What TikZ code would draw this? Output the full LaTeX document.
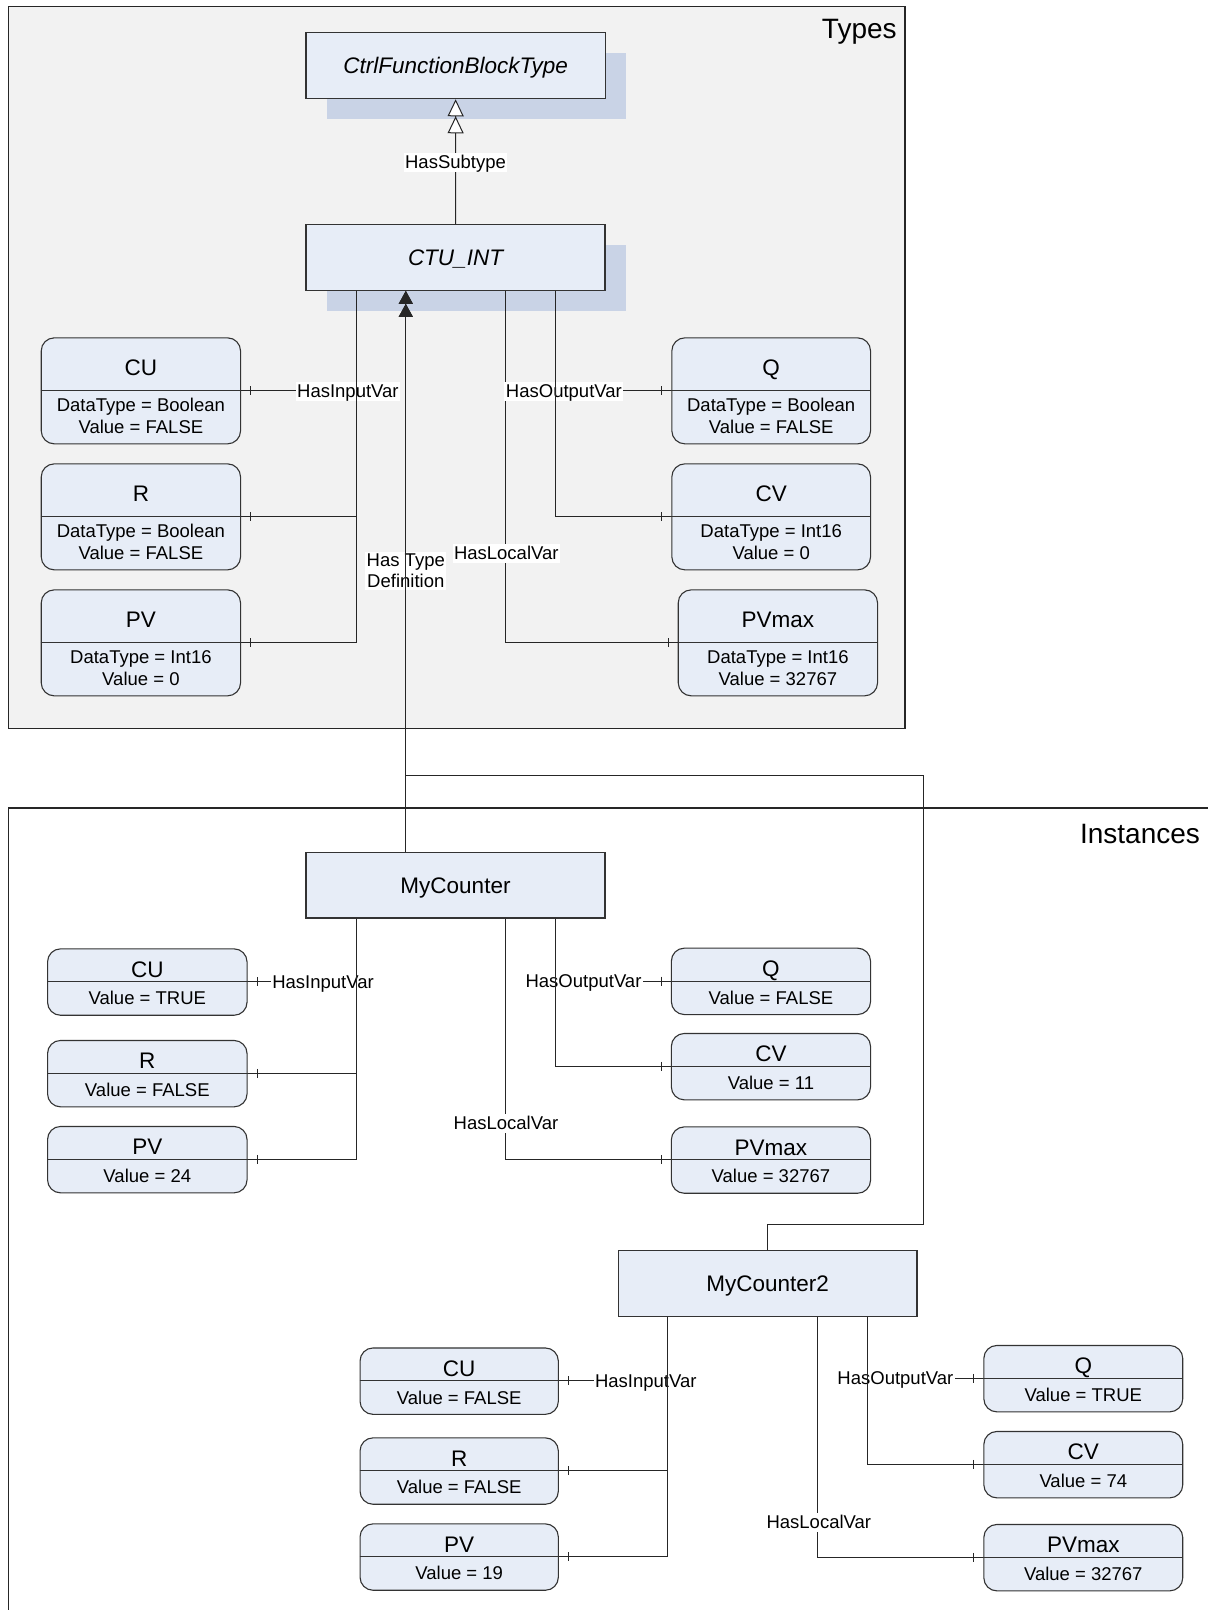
\documentclass[tikz,border=0pt]{standalone}
\usepackage{fontspec}
\setmainfont{Liberation Sans}
\usetikzlibrary{arrows.meta,shadows}

\definecolor{boxfill}{HTML}{E7EDF7}
\definecolor{shadowfill}{HTML}{C9D3E6}
\definecolor{typesbg}{HTML}{F2F2F2}
\definecolor{edgecol}{HTML}{333333}

\newcommand{\ttlsize}{\fontsize{22.5}{27}\selectfont}
\newcommand{\lblsize}{\fontsize{18.5}{21.7}\selectfont}
\newcommand{\frmsize}{\fontsize{28}{32}\selectfont}

\tikzset{
  frameline/.style={draw=black!85, line width=1.4pt},
  classbox/.style={draw=edgecol, line width=1.1pt, fill=boxfill, inner sep=0pt,
    minimum width=299pt, minimum height=66pt, text height=16.1pt, text depth=0pt, font=\ttlsize},
  typeshadow/.style={drop shadow={shadow xshift=20.7pt, shadow yshift=-20.7pt, fill=shadowfill, opacity=1}},
  varbox/.style={draw=edgecol, line width=1.1pt, fill=boxfill, rounded corners=13pt,
    anchor=north west, inner sep=0pt},
  tvar/.style={varbox, minimum height=106pt},
  ivar/.style={varbox, minimum height=66.4pt},
  divider/.style={draw=edgecol, line width=1pt},
  conn/.style={draw=black!85, line width=1pt},
  rlab/.style={fill=white, inner sep=1.5pt, text height=14pt, text depth=2pt, font=\lblsize, anchor=base},
  vtitle/.style={anchor=base, font=\ttlsize, inner sep=0pt},
  vbody/.style={anchor=base, font=\lblsize, inner sep=0pt},
  subtypearrow/.style={-{Triangle[fill=white,length=17pt,width=16pt,sep=0pt] Triangle[fill=white,length=17pt,width=16pt,sep=0pt]}},
  typedefarrow/.style={-{Triangle[length=13pt,width=14pt,sep=0pt] Triangle[length=13pt,width=14pt,sep=0pt]}},
}

% variable of a type: name, top-left corner, width, title, data type line, value line
\newcommand{\typevar}[6]{%
  \node[tvar, minimum width=#3pt] (#1) at (#2) {};
  \coordinate (#1-w) at ([yshift=-53.4pt]#1.north west);
  \coordinate (#1-e) at ([yshift=-53.4pt]#1.north east);
  \draw[divider] (#1-w) -- (#1-e);
  \node[vtitle] (#1-t) at ([yshift=-38pt]#1.north) {#4};
  \node[vbody] (#1-a) at ([yshift=-74pt]#1.north) {#5};
  \node[vbody] (#1-b) at ([yshift=-96pt]#1.north) {#6};
}
% variable of an instance: name, top-left corner, width, title, value line
\newcommand{\instvar}[5]{%
  \node[ivar, minimum width=#3pt] (#1) at (#2) {};
  \coordinate (#1-w) at ([yshift=-33.4pt]#1.north west);
  \coordinate (#1-e) at ([yshift=-33.4pt]#1.north east);
  \draw[divider] (#1-w) -- (#1-e);
  \node[vtitle] (#1-t) at ([yshift=-29pt]#1.north) {#4};
  \node[vbody] (#1-a) at ([yshift=-56.6pt]#1.north) {#5};
}
% small cross bar on a reference close to the target box
\newcommand{\tickE}[1]{\draw[conn] ([xshift=9.5pt]#1-e) ++(0,-4.5) -- ++(0,9);}
\newcommand{\tickW}[1]{\draw[conn] ([xshift=-9.5pt]#1-w) ++(0,-4.5) -- ++(0,9);}

\begin{document}
\begin{tikzpicture}[x=1pt, y=-1pt]
\useasboundingbox (0,0) rectangle (1208,1610);
\clip (0,0) rectangle (1208,1610);
\fill[white] (0,0) rectangle (1208,1610);

% ---------------- frames ----------------
\draw[frameline, fill=typesbg] (8.2,6.2) rectangle (905,728.5);
\node[font=\frmsize, inner sep=0pt] (typesTitle) at (859.3,31.8) {Types};
\draw[frameline] (1230,808) -- (8.2,808) -- (8.2,1630);
\node[font=\frmsize, inner sep=0pt] (instTitle) at (1140,834) {Instances};

% ---------------- types ----------------
\node[classbox, typeshadow, minimum width=299.3pt, minimum height=66.4pt, font=\ttlsize\itshape]
  (CFBT) at (455.65,65.5) {CtrlFunctionBlockType};
\node[classbox, typeshadow, minimum height=65.6pt, font=\ttlsize\itshape]
  (CTU) at (455.5,257.5) {CTU\_INT};

\typevar{tCU}{40.7,337.3}{199.3}{CU}{DataType = Boolean}{Value = FALSE}
\typevar{tR}{40.7,463.3}{199.3}{R}{DataType = Boolean}{Value = FALSE}
\typevar{tPV}{40.7,589.3}{199.3}{PV}{DataType = Int16}{Value = 0}
\typevar{tQ}{671.3,337.3}{198.7}{Q}{DataType = Boolean}{Value = FALSE}
\typevar{tCV}{671.3,463.3}{198.7}{CV}{DataType = Int16}{Value = 0}
\typevar{tPVmax}{677.7,589.3}{199.3}{PVmax}{DataType = Int16}{Value = 32767}

% bus positions below CTU_INT
\coordinate (tIn) at (356,0);
\coordinate (tLoc) at (505.5,0);
\coordinate (tOut) at (555.3,0);
\coordinate (tdX) at (405.8,0);

% input variables
\draw[conn] (CTU.south -| tIn) |- (tCU-e);
\node[rlab] (tHasIn) at (347.9,397.3) {HasInputVar};
\draw[conn] (CTU.south -| tIn) |- (tR-e);
\draw[conn] (CTU.south -| tIn) |- (tPV-e);
\tickE{tCU}\tickE{tR}\tickE{tPV}

% local variable
\draw[conn] (CTU.south -| tLoc) |- (tPVmax-w);
\node[rlab] (tHasLoc) at (506.3,559.3) {HasLocalVar};

% output variables
\draw[conn] (CTU.south -| tOut) |- (tQ-w);
\node[rlab] (tHasOut) at (563.9,397.3) {HasOutputVar};
\draw[conn] (CTU.south -| tOut) |- (tCV-w);
\tickW{tQ}\tickW{tCV}\tickW{tPVmax}

% subtype reference
\draw[conn, subtypearrow] (CTU.north) -- (CFBT.south);
\node[rlab] (subLab) at (455.5,168.3) {HasSubtype};

% ---------------- instances ----------------
\node[classbox, minimum height=65.4pt] (MC) at (455.5,885.3) {MyCounter};
\instvar{iCU}{47,948.3}{199.5}{CU}{Value = TRUE}
\instvar{iR}{47,1039.9}{199.5}{R}{Value = FALSE}
\instvar{iPV}{47,1125.9}{199.5}{PV}{Value = 24}
\instvar{iQ}{670.8,947.6}{199.2}{Q}{Value = FALSE}
\instvar{iCV}{670.8,1032.9}{199.2}{CV}{Value = 11}
\instvar{iPVmax}{670.8,1126.3}{199.2}{PVmax}{Value = 32767}

\coordinate (iIn) at (356.4,0);
\coordinate (iLoc) at (505.4,0);
\coordinate (iOut) at (555.3,0);

\draw[conn] (MC.south -| iIn) |- (iCU-e);
\node[rlab] (iHasIn) at (323,988.3) {HasInputVar};
\draw[conn] (MC.south -| iIn) |- (iR-e);
\draw[conn] (MC.south -| iIn) |- (iPV-e);
\tickE{iCU}\tickE{iR}\tickE{iPV}

\draw[conn] (MC.south -| iLoc) |- (iPVmax-w);
\node[rlab] (iHasLoc) at (506,1129.6) {HasLocalVar};

\draw[conn] (MC.south -| iOut) |- (iQ-w);
\node[rlab] (iHasOut) at (583.5,987.6) {HasOutputVar};
\draw[conn] (MC.south -| iOut) |- (iCV-w);
\tickW{iQ}\tickW{iCV}\tickW{iPVmax}

\node[classbox, minimum width=298.6pt, minimum height=65.8pt] (MC2) at (767.7,1283.6) {MyCounter2};
\instvar{jCU}{359.5,1347.4}{198.3}{CU}{Value = FALSE}
\instvar{jR}{359.5,1437.3}{198.3}{R}{Value = FALSE}
\instvar{jPV}{359.5,1523.3}{198.3}{PV}{Value = 19}
\instvar{jQ}{983.3,1344.9}{198.9}{Q}{Value = TRUE}
\instvar{jCV}{983.3,1430.9}{198.9}{CV}{Value = 74}
\instvar{jPVmax}{983.3,1523.9}{198.9}{PVmax}{Value = 32767}

\coordinate (jIn) at (667.8,0);
\coordinate (jLoc) at (817.2,0);
\coordinate (jOut) at (867,0);

\draw[conn] (MC2.south -| jIn) |- (jCU-e);
\node[rlab] (jHasIn) at (645.8,1387.6) {HasInputVar};
\draw[conn] (MC2.south -| jIn) |- (jR-e);
\draw[conn] (MC2.south -| jIn) |- (jPV-e);
\tickE{jCU}\tickE{jR}\tickE{jPV}

\draw[conn] (MC2.south -| jLoc) |- (jPVmax-w);
\node[rlab] (jHasLoc) at (818.8,1528.3) {HasLocalVar};

\draw[conn] (MC2.south -| jOut) |- (jQ-w);
\node[rlab] (jHasOut) at (895.4,1384.9) {HasOutputVar};
\draw[conn] (MC2.south -| jOut) |- (jCV-w);
\tickW{jQ}\tickW{jCV}\tickW{jPVmax}

% ---------------- type definitions ----------------
\coordinate (tdBendA) at (923,1224);
\coordinate (tdBendB) at (923,775.5);
\draw[conn, typedefarrow] (MC.north -| tdX) -- (CTU.south -| tdX);
\node[fill=white, inner sep=1.5pt, align=center, font=\lblsize] (tdLab) at (405.8,570.8) {Has Type\\Definition};
\draw[conn, typedefarrow] (MC2.north) |- (tdBendA) -- (tdBendB) -| (CTU.south -| tdX);
\end{tikzpicture}
\end{document}
